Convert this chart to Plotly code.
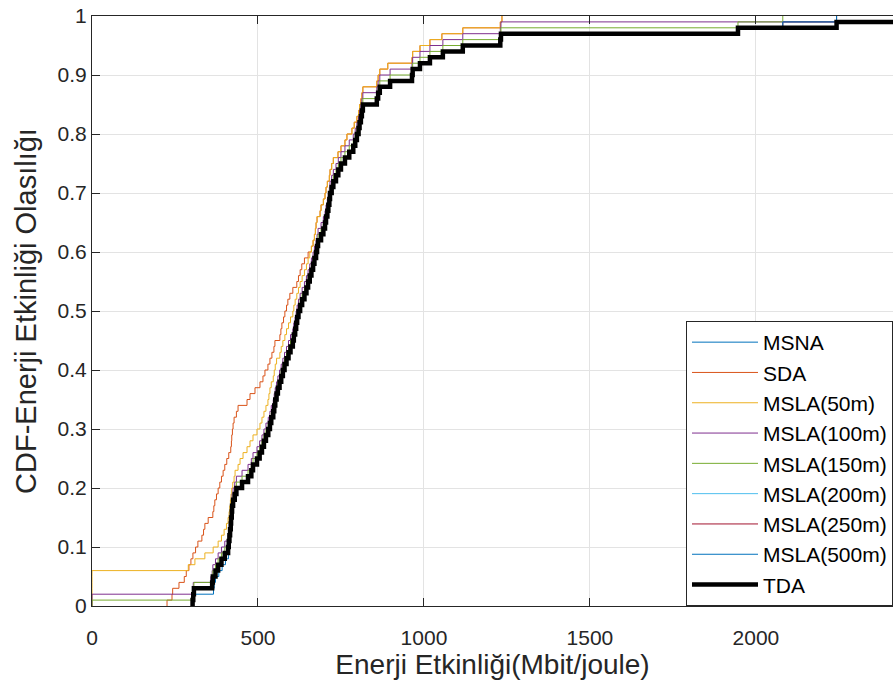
import plotly.graph_objects as go

# Energy efficiency samples (Mbit/joule), one list per algorithm; the CDF is built from them.
energy_msna = [
    303, 305, 366, 368, 372, 382, 392, 402, 411, 413,
    415, 417, 418, 419, 420, 422, 424, 427, 432, 437,
    455, 472, 482, 488, 500, 507, 514, 520, 526, 533,
    538, 542, 548, 551, 554, 558, 562, 567, 572, 577,
    582, 588, 594, 600, 607, 610, 614, 617, 620, 624,
    629, 635, 642, 648, 653, 658, 663, 668, 672, 677,
    680, 683, 692, 699, 704, 707, 711, 714, 717, 719,
    724, 729, 737, 744, 752, 764, 777, 789, 795, 800,
    805, 808, 812, 815, 818, 858, 862, 867, 898, 964,
    966, 988, 1018, 1057, 1117, 1230, 1232, 1946, 2243, 2600,
]
energy_sda = [
    226, 241, 243, 262, 278, 284, 292, 298, 304, 312,
    319, 331, 336, 340, 350, 364, 367, 370, 375, 380,
    385, 390, 395, 400, 406, 412, 418, 420, 421, 423,
    425, 428, 435, 440, 467, 476, 491, 506, 515, 521,
    530, 536, 542, 548, 551, 566, 569, 572, 577, 581,
    586, 590, 596, 605, 617, 622, 627, 632, 640, 651,
    661, 666, 670, 673, 675, 678, 687, 690, 697, 702,
    705, 709, 715, 717, 722, 727, 741, 750, 762, 768,
    783, 790, 798, 803, 806, 810, 813, 816, 858, 862,
    867, 891, 964, 966, 988, 1018, 1054, 1117, 1230, 1235,
]
energy_msla_50 = [
    0, 0, 0, 0, 0, 0, 290, 310, 340, 365,
    380, 390, 398, 405, 410, 413, 415, 417, 419, 421,
    424, 428, 431, 440, 446, 455, 467, 476, 485, 497,
    506, 512, 518, 524, 530, 533, 536, 540, 546, 549,
    552, 556, 566, 570, 575, 581, 586, 592, 598, 605,
    608, 612, 617, 622, 627, 633, 640, 646, 651, 656,
    661, 666, 670, 673, 675, 678, 687, 690, 697, 702,
    705, 709, 715, 717, 722, 727, 741, 750, 762, 768,
    783, 790, 798, 803, 806, 810, 813, 816, 858, 862,
    867, 891, 964, 966, 988, 1018, 1054, 1117, 1230, 1235,
]
energy_msla_100 = [
    0, 0, 303, 305, 358, 362, 364, 372, 380, 390,
    400, 410, 412, 414, 416, 418, 419, 421, 422, 425,
    430, 435, 452, 470, 480, 485, 497, 505, 512, 518,
    524, 531, 536, 540, 546, 549, 552, 556, 560, 565,
    570, 575, 580, 586, 592, 598, 605, 608, 612, 615,
    618, 622, 627, 633, 640, 646, 651, 656, 661, 666,
    670, 675, 678, 681, 690, 697, 702, 705, 709, 712,
    715, 717, 722, 727, 735, 742, 750, 762, 775, 787,
    793, 798, 803, 806, 810, 813, 816, 858, 862, 867,
    898, 964, 966, 988, 1018, 1057, 1117, 1230, 1232, 2600,
]
energy_msla_150 = [
    0, 303, 305, 307, 362, 364, 372, 380, 390, 400,
    410, 412, 414, 416, 418, 419, 421, 422, 425, 430,
    435, 452, 470, 480, 485, 497, 505, 512, 518, 524,
    531, 536, 540, 546, 549, 552, 556, 560, 565, 570,
    575, 580, 586, 592, 598, 605, 608, 612, 615, 618,
    622, 627, 633, 640, 646, 651, 656, 661, 666, 670,
    675, 678, 681, 690, 697, 702, 705, 709, 712, 715,
    717, 722, 727, 735, 742, 750, 762, 775, 787, 793,
    798, 803, 806, 810, 813, 816, 858, 862, 867, 898,
    964, 966, 988, 1018, 1057, 1117, 1230, 1232, 1946, 2081,
]
energy_msla_200 = [
    303, 305, 307, 362, 364, 372, 380, 390, 400, 410,
    412, 414, 416, 418, 419, 421, 422, 425, 430, 435,
    452, 470, 480, 485, 497, 505, 512, 518, 524, 531,
    536, 540, 546, 549, 552, 556, 560, 565, 570, 575,
    580, 586, 592, 598, 605, 608, 612, 615, 618, 622,
    627, 633, 640, 646, 651, 656, 661, 666, 670, 675,
    678, 681, 690, 697, 702, 705, 709, 712, 715, 717,
    722, 727, 735, 742, 750, 762, 775, 787, 793, 798,
    803, 806, 810, 813, 816, 858, 862, 867, 898, 964,
    966, 988, 1018, 1057, 1117, 1230, 1232, 1946, 2081, 2243,
]
energy_msla_250 = [
    303, 305, 307, 362, 364, 372, 380, 390, 400, 410,
    412, 414, 416, 418, 419, 421, 422, 425, 430, 435,
    452, 470, 480, 485, 497, 505, 512, 518, 524, 531,
    536, 540, 546, 549, 552, 556, 560, 565, 570, 575,
    580, 586, 592, 598, 605, 608, 612, 615, 618, 622,
    627, 633, 640, 646, 651, 656, 661, 666, 670, 675,
    678, 681, 690, 697, 702, 705, 709, 712, 715, 717,
    722, 727, 735, 742, 750, 762, 775, 787, 793, 798,
    803, 806, 810, 813, 816, 858, 862, 867, 898, 964,
    966, 988, 1018, 1057, 1117, 1230, 1232, 1946, 2081, 2243,
]
energy_msla_500 = [
    303, 305, 307, 362, 364, 372, 380, 390, 400, 410,
    412, 414, 416, 418, 419, 421, 422, 425, 430, 435,
    452, 470, 480, 485, 497, 505, 512, 518, 524, 531,
    536, 540, 546, 549, 552, 556, 560, 565, 570, 575,
    580, 586, 592, 598, 605, 608, 612, 615, 618, 622,
    627, 633, 640, 646, 651, 656, 661, 666, 670, 675,
    678, 681, 690, 697, 702, 705, 709, 712, 715, 717,
    722, 727, 735, 742, 750, 762, 775, 787, 793, 798,
    803, 806, 810, 813, 816, 858, 862, 867, 898, 964,
    966, 988, 1018, 1057, 1117, 1230, 1232, 1946, 2081, 2243,
]
energy_tda = [
    303, 305, 307, 362, 364, 372, 380, 390, 400, 410,
    412, 414, 416, 418, 419, 421, 422, 425, 430, 435,
    452, 470, 480, 485, 497, 505, 512, 518, 524, 531,
    536, 540, 546, 549, 552, 556, 560, 565, 570, 575,
    580, 586, 592, 598, 605, 608, 612, 615, 618, 622,
    627, 633, 640, 646, 651, 656, 661, 666, 670, 675,
    678, 681, 690, 697, 702, 705, 709, 712, 715, 717,
    722, 727, 735, 742, 750, 762, 775, 787, 793, 798,
    803, 806, 810, 813, 816, 858, 862, 867, 898, 964,
    966, 988, 1018, 1057, 1117, 1230, 1232, 1946, 2243, 2600,
]

series_names = ["MSNA", "SDA", "MSLA(50m)", "MSLA(100m)", "MSLA(150m)",
                "MSLA(200m)", "MSLA(250m)", "MSLA(500m)", "TDA"]
series_data = [energy_msna, energy_sda, energy_msla_50, energy_msla_100,
               energy_msla_150, energy_msla_200, energy_msla_250,
               energy_msla_500, energy_tda]
series_colors = ["#0072BD", "#D95319", "#EDB120", "#7E2F8E", "#77AC30",
                 "#4DBEEE", "#A2142F", "#0072BD", "#000000"]
series_widths = [1, 1, 1, 1, 1, 1, 1, 1, 4.5]

x_range = [0, 2413]
x_ticks = [0, 500, 1000, 1500, 2000]
y_ticks = [0, 0.1, 0.2, 0.3, 0.4, 0.5, 0.6, 0.7, 0.8, 0.9, 1]
y_tick_labels = ["0", "0.1", "0.2", "0.3", "0.4", "0.5", "0.6", "0.7", "0.8", "0.9", "1"]


def empirical_cdf(samples):
    """Staircase points of the empirical CDF, from the first to the last sample."""
    s = sorted(samples)
    n = len(s)
    xs = [s[0]] + s
    ys = [0.0] + [(i + 1) / n for i in range(n)]
    return xs, ys


fig = go.Figure()
for name, data, color, width in zip(series_names, series_data, series_colors, series_widths):
    xs, ys = empirical_cdf(data)
    fig.add_trace(go.Scatter(
        x=xs, y=ys, mode="lines", name=name,
        line=dict(color=color, width=width, shape="hv"),
    ))

# empty trace on a twin x axis that only carries the tick labels below the frame
fig.add_trace(go.Scatter(x=[], y=[], xaxis="x2", showlegend=False, hoverinfo="skip"))

axis_color = "#262626"
grid_color = "#e3e3e3"

fig.update_layout(
    width=893, height=693,
    margin=dict(l=92, r=0, t=16, b=87),
    plot_bgcolor="white", paper_bgcolor="white",
    font=dict(family="Liberation Sans, Arial, sans-serif", color=axis_color, size=21),
    showlegend=True,
    legend=dict(
        x=1, xanchor="right", y=0, yanchor="bottom",
        bgcolor="white", bordercolor=axis_color, borderwidth=1,
        itemwidth=66,
        font=dict(size=21, color="#000000"),
    ),
    xaxis=dict(
        range=x_range, tickvals=x_ticks, ticks="inside", ticklen=8,
        tickcolor=axis_color, showline=True, linecolor=axis_color, linewidth=1,
        mirror="ticks", showgrid=True, gridcolor=grid_color, zeroline=False,
        showticklabels=False,
        title=dict(text="Enerji Etkinliği(Mbit/joule)", font=dict(size=28), standoff=48),
    ),
    xaxis2=dict(
        range=x_range, tickvals=x_ticks, overlaying="x", side="bottom", anchor="y",
        ticks="outside", ticklen=13, tickcolor="rgba(0,0,0,0)",
        showline=False, showgrid=False, zeroline=False,
        tickfont=dict(size=21),
    ),
    yaxis=dict(
        range=[0, 1], tickvals=y_ticks, ticktext=y_tick_labels, ticks="inside",
        ticklen=8, tickcolor=axis_color, showline=True, linecolor=axis_color,
        linewidth=1, showgrid=True, gridcolor=grid_color, zeroline=False,
        tickfont=dict(size=21),
        title=dict(text="CDF-Enerji Etkinliği Olasılığı", font=dict(size=29), standoff=12),
    ),
)

fig.write_html("out.html")
